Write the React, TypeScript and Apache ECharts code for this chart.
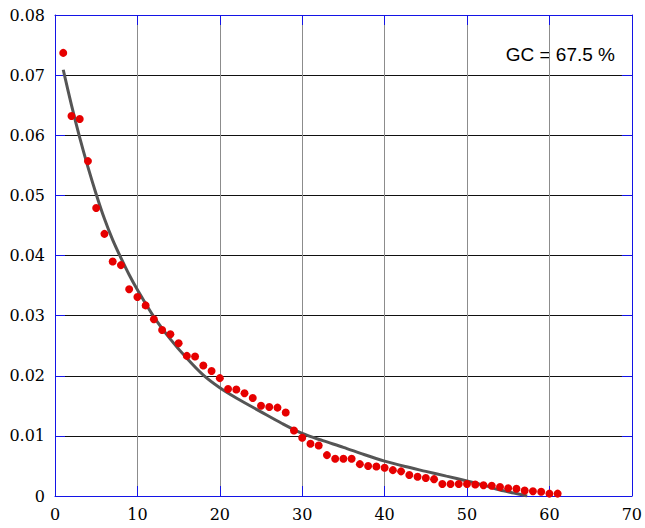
import React, { useEffect, useRef } from "react";
import * as echarts from "echarts";

const pointX = [
  1, 2, 3, 4, 5, 6, 7, 8, 9, 10, 11, 12, 13, 14, 15, 16, 17, 18, 19, 20, 21,
  22, 23, 24, 25, 26, 27, 28, 29, 30, 31, 32, 33, 34, 35, 36, 37, 38, 39, 40,
  41, 42, 43, 44, 45, 46, 47, 48, 49, 50, 51, 52, 53, 54, 55, 56, 57, 58, 59,
  60, 61,
];
const pointY = [
  0.0737, 0.0632, 0.0627, 0.0557, 0.0479, 0.0436, 0.039, 0.0384, 0.0344,
  0.0331, 0.0317, 0.0294, 0.0276, 0.0269, 0.0254, 0.0233, 0.0232, 0.0217,
  0.0208, 0.0196, 0.0178, 0.0177, 0.0171, 0.0163, 0.015, 0.0148, 0.0147,
  0.0139, 0.0109, 0.0097, 0.0087, 0.0084, 0.0068, 0.0062, 0.0062, 0.0062,
  0.0053, 0.005, 0.0049, 0.0047, 0.0043, 0.0041, 0.0035, 0.0032, 0.003,
  0.0028, 0.002, 0.002, 0.002, 0.002, 0.0019, 0.0018, 0.0017, 0.0015, 0.0013,
  0.0012, 0.0009, 0.0008, 0.0007, 0.0004, 0.0004,
];

const fitX = [
  1, 2, 3, 4, 5, 6, 7, 8, 9, 10, 12, 14, 16, 18, 20, 22, 25, 27.5, 30, 32.5,
  35, 37.5, 40, 42.5, 45, 47.5, 50, 52, 54, 55.7, 57.3,
];
const fitY = [
  0.0709, 0.065, 0.0596, 0.0547, 0.0502, 0.0461, 0.0426, 0.0396, 0.0368,
  0.0343, 0.0298, 0.0261, 0.0229, 0.0201, 0.018, 0.0163, 0.014, 0.0121,
  0.0104, 0.0092, 0.0081, 0.0069, 0.0058, 0.0049, 0.0041, 0.0033, 0.0025,
  0.0018, 0.001, 0.0005, 0,
];

const xTicks = [0, 10, 20, 30, 40, 50, 60, 70];
const yTicks = [0, 0.01, 0.02, 0.03, 0.04, 0.05, 0.06, 0.07, 0.08];
const annotation = "GC = 67.5 %";

const BLUE = "#1414e6";
const SERIF = "DejaVu Serif";

export default function App() {
  const ref = useRef<HTMLDivElement>(null);
  useEffect(() => {
    if (!ref.current) return;
    const chart = echarts.init(ref.current, null, { renderer: "svg" });
    const axisCommon = {
      axisLine: { show: true, onZero: false, lineStyle: { color: BLUE, width: 1 } },
      axisTick: { show: true, inside: true, length: 10, lineStyle: { color: BLUE, width: 1 } },
    };
    const labelStyle = {
      color: "#000",
      fontFamily: SERIF,
      fontSize: 16,
    };
    chart.setOption({
      animation: false,
      backgroundColor: "#ffffff",
      grid: { left: 55, right: 10, top: 15, bottom: 32, containLabel: false },
      xAxis: [
        {
          type: "value",
          min: xTicks[0],
          max: xTicks[xTicks.length - 1],
          interval: 10,
          position: "bottom",
          ...axisCommon,
          axisLabel: { ...labelStyle, margin: 10 },
          splitLine: { show: true, lineStyle: { color: "#8c8c8c", width: 1 } },
        },
        {
          type: "value",
          min: xTicks[0],
          max: xTicks[xTicks.length - 1],
          interval: 10,
          position: "top",
          ...axisCommon,
          axisLabel: { show: false },
          splitLine: { show: false },
        },
      ],
      yAxis: [
        {
          type: "value",
          min: yTicks[0],
          max: yTicks[yTicks.length - 1],
          interval: 0.01,
          position: "left",
          ...axisCommon,
          axisLabel: {
            ...labelStyle,
            margin: 10,
            formatter: (v: number) => (v === 0 ? "0" : v.toFixed(2)),
          },
          splitLine: { show: true, lineStyle: { color: "#111111", width: 1 } },
        },
        {
          type: "value",
          min: yTicks[0],
          max: yTicks[yTicks.length - 1],
          interval: 0.01,
          position: "right",
          ...axisCommon,
          axisLabel: { show: false },
          splitLine: { show: false },
        },
      ],
      graphic: [
        {
          type: "text",
          right: 30,
          top: 45,
          style: {
            text: annotation,
            fill: "#000",
            fontFamily: "Liberation Sans",
            fontSize: 19,
          },
        },
      ],
      series: [
        {
          type: "line",
          data: fitX.map((x, i) => [x, fitY[i]]),
          smooth: 0.3,
          showSymbol: false,
          lineStyle: { color: "#555555", width: 3 },
          z: 2,
        },
        {
          type: "scatter",
          data: pointX.map((x, i) => [x, pointY[i]]),
          symbolSize: 8,
          itemStyle: { color: "#e60000", opacity: 1 },
          z: 3,
        },
      ],
    });
    return () => chart.dispose();
  }, []);
  return <div ref={ref} style={{ width: 645, height: 528, position: "absolute", left: 0, top: 0 }} />;
}
